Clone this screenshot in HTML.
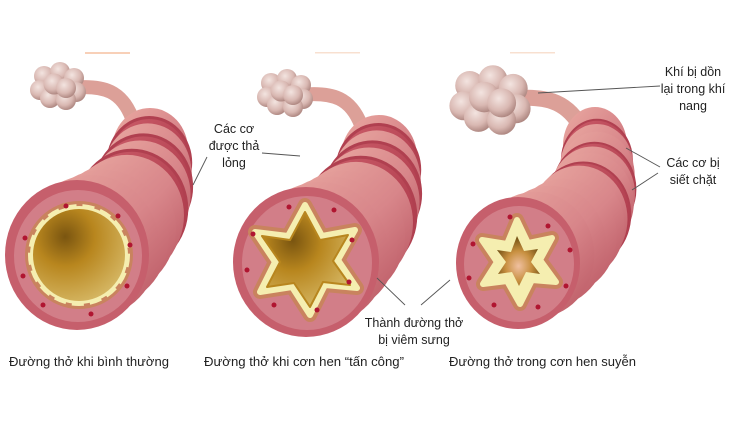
<!DOCTYPE html>
<html><head><meta charset="utf-8"><style>
html,body{margin:0;padding:0;background:#fff;}
svg{display:block;}
text{font-family:"Liberation Sans","Noto Sans CJK SC",sans-serif;font-size:12.5px;fill:#222;}
</style></head><body>
<svg width="730" height="444" viewBox="0 0 730 444" xmlns="http://www.w3.org/2000/svg">
<defs>
<radialGradient id="alv" cx="0.4" cy="0.35" r="0.7">
<stop offset="0" stop-color="#f3e4e0"/><stop offset="0.6" stop-color="#d9b8b2"/><stop offset="1" stop-color="#a8807a"/>
</radialGradient>
<linearGradient id="bd" x1="0" y1="0" x2="1" y2="1">
<stop offset="0" stop-color="#eaaaa2"/><stop offset="0.55" stop-color="#d8868a"/><stop offset="1" stop-color="#b85460"/>
</linearGradient>
<linearGradient id="bn" x1="0" y1="0" x2="1" y2="1">
<stop offset="0" stop-color="#cc5e6a"/><stop offset="1" stop-color="#a83446"/>
</linearGradient>
<radialGradient id="lum" cx="0.35" cy="0.3" r="0.8">
<stop offset="0" stop-color="#7a5510"/><stop offset="0.4" stop-color="#b8861e"/><stop offset="1" stop-color="#d8bb6a"/>
</radialGradient>
<radialGradient id="lum3" cx="0.5" cy="0.6" r="0.6">
<stop offset="0" stop-color="#f0c0a0"/><stop offset="0.5" stop-color="#c89040"/><stop offset="1" stop-color="#6a4a10"/>
</radialGradient>
<g id="cluster">
<circle cx="-14" cy="-10" r="10" fill="url(#alv)"/><circle cx="2" cy="-14" r="10" fill="url(#alv)"/><circle cx="16" cy="-8" r="10" fill="url(#alv)"/>
<circle cx="-18" cy="4" r="10" fill="url(#alv)"/><circle cx="18" cy="6" r="10" fill="url(#alv)"/>
<circle cx="-8" cy="12" r="10" fill="url(#alv)"/><circle cx="8" cy="14" r="10" fill="url(#alv)"/>
<circle cx="-4" cy="-2" r="10.5" fill="url(#alv)"/><circle cx="8" cy="2" r="10" fill="url(#alv)"/>
</g>
<g id="tube1">
<path d="M70,88 C105,84 122,92 132,118" stroke="#dca098" stroke-width="14" fill="none"/>
<ellipse cx="150" cy="150" rx="38" ry="42" fill="url(#bd)"/>
<ellipse cx="149.3" cy="162.8" rx="41.4" ry="45.3" fill="url(#bn)" stroke="#b04050" stroke-width="3"/>
<ellipse cx="147.6" cy="171" rx="43.6" ry="47.6" fill="url(#bd)"/>
<ellipse cx="147.1" cy="175" rx="44.8" ry="48.6" fill="url(#bd)"/>
<ellipse cx="143.4" cy="186.8" rx="48.2" ry="51.9" fill="url(#bn)" stroke="#b04050" stroke-width="3"/>
<ellipse cx="140" cy="194.5" rx="50.6" ry="54" fill="url(#bd)"/>
<ellipse cx="138.3" cy="198" rx="51.6" ry="55.2" fill="url(#bd)"/>
<ellipse cx="131.75" cy="208.75" rx="55" ry="58.5" fill="url(#bn)" stroke="#b04050" stroke-width="3"/>
<ellipse cx="127" cy="215.5" rx="57" ry="60.6" fill="url(#bd)"/>
<ellipse cx="123.7" cy="219" rx="58.4" ry="61.8" fill="url(#bd)"/>
<ellipse cx="114.2" cy="228.75" rx="61.8" ry="65.1" fill="url(#bd)"/>
<ellipse cx="103.3" cy="238" rx="65.2" ry="68.4" fill="url(#bd)"/>
<ellipse cx="90.9" cy="246.75" rx="68.6" ry="71.7" fill="url(#bd)"/>
</g>
</defs>

<rect x="85" y="52" width="45" height="2" fill="#f8d0b8"/>
<rect x="315" y="52" width="45" height="1.5" fill="#f8e0d0"/>
<rect x="510" y="52" width="45" height="1.5" fill="#f8e0d0"/>

<!-- ===== TUBE 1 ===== -->
<use href="#tube1"/>
<ellipse cx="77" cy="255" rx="72" ry="75" fill="#c65f6c"/>
<ellipse cx="78" cy="256" rx="64" ry="66" fill="#d27e88"/>
<circle cx="79" cy="255" r="54" fill="#c9835e"/>
<circle cx="79" cy="255" r="49" fill="#f5eeb0" stroke="#f5eeb0" stroke-width="4" stroke-dasharray="12 6"/>
<circle cx="79" cy="255" r="46" fill="url(#lum)"/>
<g fill="#b01530"><circle cx="66" cy="206" r="2.5"/><circle cx="118" cy="216" r="2.5"/><circle cx="25" cy="238" r="2.5"/><circle cx="130" cy="245" r="2.5"/><circle cx="23" cy="276" r="2.5"/><circle cx="127" cy="286" r="2.5"/><circle cx="43" cy="305" r="2.5"/><circle cx="91" cy="314" r="2.5"/></g>
<use href="#cluster" x="58" y="86"/>

<!-- ===== TUBE 2 ===== -->
<use href="#tube1" transform="translate(229,7)"/>
<ellipse cx="306" cy="262" rx="73" ry="75" fill="#c65f6c"/>
<ellipse cx="307" cy="263" rx="65" ry="67" fill="#d27e88"/>
<polygon points="305,205 322,236 355,230 338,260 357,288 325,285 310,315 292,287 260,292 275,262 255,232 288,236" fill="#c9835e" stroke="#c9835e" stroke-width="14" stroke-linejoin="round"/>
<polygon points="305,205 322,236 355,230 338,260 357,288 325,285 310,315 292,287 260,292 275,262 255,232 288,236" fill="#f5eeb0" stroke="#f5eeb0" stroke-width="6" stroke-linejoin="round"/>
<polygon points="305,212 320,240 348,235 333,261 350,285 323,282 310,307 294,283 267,287 280,262 262,236 290,240" fill="url(#lum)" stroke="#b8861e" stroke-width="2" stroke-linejoin="round"/>
<g fill="#b01530"><circle cx="289" cy="207" r="2.5"/><circle cx="334" cy="210" r="2.5"/><circle cx="253" cy="234" r="2.5"/><circle cx="352" cy="240" r="2.5"/><circle cx="247" cy="270" r="2.5"/><circle cx="349" cy="282" r="2.5"/><circle cx="274" cy="305" r="2.5"/><circle cx="317" cy="310" r="2.5"/></g>
<use href="#cluster" x="285" y="93"/>

<!-- ===== TUBE 3 ===== -->
<path d="M510,98 C545,96 565,100 580,125" stroke="#dca098" stroke-width="16" fill="none"/>
<ellipse cx="595" cy="145" rx="32" ry="38" fill="url(#bd)"/>
<ellipse cx="596.9" cy="160.6" rx="35" ry="40.8" fill="url(#bn)" stroke="#b04050" stroke-width="2"/>
<ellipse cx="596.8" cy="166" rx="36.5" ry="42" fill="url(#bd)"/>
<ellipse cx="596.7" cy="175.3" rx="38" ry="43.6" fill="url(#bd)"/>
<ellipse cx="594.4" cy="189.2" rx="41" ry="46.4" fill="url(#bn)" stroke="#b04050" stroke-width="2"/>
<ellipse cx="592.5" cy="194" rx="42.5" ry="47.5" fill="url(#bd)"/>
<ellipse cx="589.9" cy="202.3" rx="44" ry="49.2" fill="url(#bd)"/>
<ellipse cx="583.25" cy="214.5" rx="47" ry="52" fill="url(#bn)" stroke="#b04050" stroke-width="2"/>
<ellipse cx="579" cy="219" rx="48.5" ry="53.4" fill="url(#bd)"/>
<ellipse cx="574.5" cy="225.9" rx="50" ry="54.8" fill="url(#bd)"/>
<ellipse cx="563.6" cy="236.4" rx="53" ry="57.6" fill="url(#bd)"/>
<ellipse cx="550.5" cy="246.1" rx="56" ry="60.4" fill="url(#bd)"/>
<ellipse cx="535.3" cy="255" rx="59" ry="63.2" fill="url(#bd)"/>
<ellipse cx="518" cy="263" rx="62" ry="66" fill="#c65f6c"/>
<ellipse cx="519" cy="264" rx="55" ry="58" fill="#d27e88"/>
<polygon points="517,220 528,243 552,238 540,260 556,282 532,280 520,304 507,281 483,284 497,262 482,240 507,244" fill="#c9835e" stroke="#c9835e" stroke-width="14" stroke-linejoin="round"/>
<polygon points="517,220 528,243 552,238 540,260 556,282 532,280 520,304 507,281 483,284 497,262 482,240 507,244" fill="#f5eeb0" stroke="#f5eeb0" stroke-width="6" stroke-linejoin="round"/>
<polygon points="517,236 524,251 538,249 531,262 540,274 526,272 519,286 512,272 498,274 506,262 497,250 511,252" fill="url(#lum3)"/>
<g fill="#b01530"><circle cx="510" cy="217" r="2.5"/><circle cx="548" cy="226" r="2.5"/><circle cx="473" cy="244" r="2.5"/><circle cx="570" cy="250" r="2.5"/><circle cx="469" cy="278" r="2.5"/><circle cx="566" cy="286" r="2.5"/><circle cx="494" cy="305" r="2.5"/><circle cx="538" cy="307" r="2.5"/></g>
<use href="#cluster" transform="translate(490,100) scale(1.45)"/>

<g stroke="#555" stroke-width="0.9">
<line x1="207" y1="157" x2="193" y2="185"/>
<line x1="262" y1="153" x2="300" y2="156"/>
<line x1="377" y1="278" x2="405" y2="305"/>
<line x1="450" y1="280" x2="421" y2="305"/>
<line x1="538" y1="93" x2="660" y2="86"/>
<line x1="626" y1="148" x2="660" y2="167"/>
<line x1="632" y1="190" x2="658" y2="173"/>
</g>

<g text-anchor="middle">
<text x="234" y="133">Các cơ</text>
<text x="234" y="150">được thả</text>
<text x="234" y="167">lỏng</text>
<text x="414" y="327">Thành đường thở</text>
<text x="414" y="344">bị viêm sưng</text>
<text x="693" y="76">Khí bị dồn</text>
<text x="693" y="93">lại trong khí</text>
<text x="693" y="110">nang</text>
<text x="693" y="167">Các cơ bị</text>
<text x="693" y="184">siết chặt</text>
</g>
<text x="9" y="366" textLength="160" lengthAdjust="spacingAndGlyphs">Đường thở khi bình thường</text>
<text x="204" y="366" textLength="200" lengthAdjust="spacingAndGlyphs">Đường thở khi cơn hen “tấn công”</text>
<text x="449" y="366" textLength="187" lengthAdjust="spacingAndGlyphs">Đường thở trong cơn hen suyễn</text>
</svg>
</body></html>
